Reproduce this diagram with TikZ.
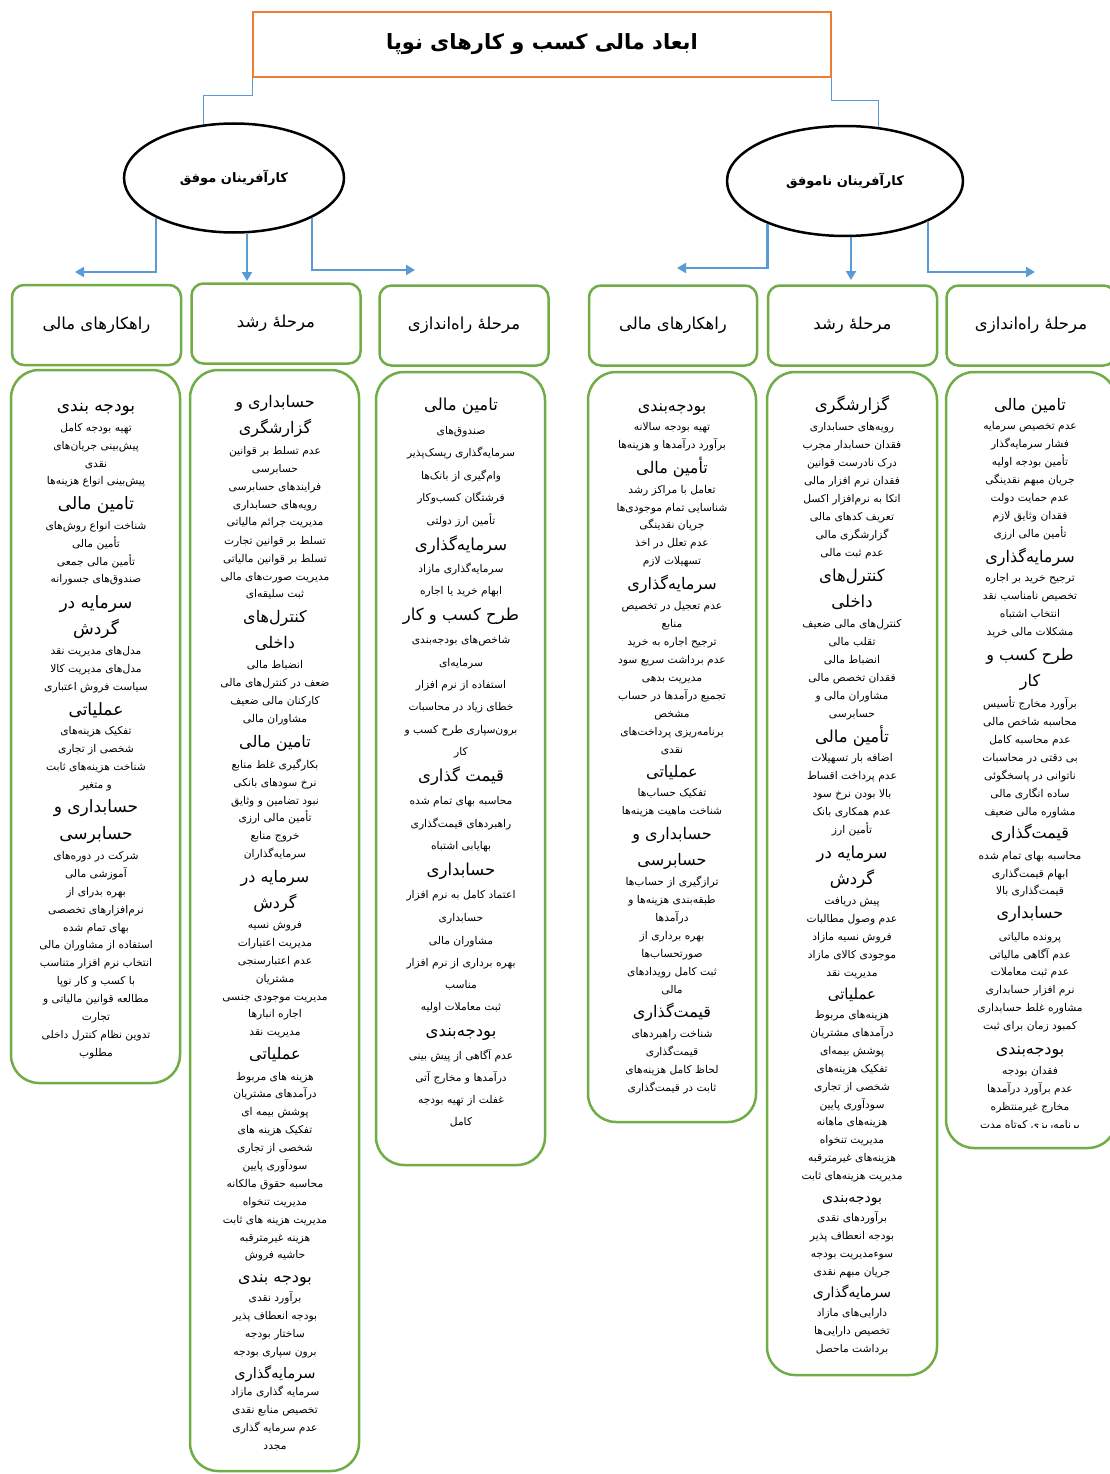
\documentclass[tikz,border=0pt]{standalone}
\usepackage{fontspec}
\usetikzlibrary{shapes.geometric,arrows.meta}
\TeXXeTstate=1
\newfontfamily\fafont[Script=Arabic]{DejaVu Sans}
\definecolor{grn}{HTML}{70AD47}
\definecolor{blu}{HTML}{5B9BD5}
\definecolor{org}{HTML}{ED7D31}
\newcounter{ln}
\newcommand\cx{0}
\newcommand\hsz{16}
\newcommand\It[2]{\stepcounter{ln}\node[itm] (l\number\value{ln}) at (\cx,#1+4) {#2};}
\newcommand\Hd[2]{\stepcounter{ln}\node[hdg] (l\number\value{ln}) at (\cx,#1+6) {#2};}
\begin{document}
\begin{tikzpicture}[x=1pt,y=-1pt,
  itm/.style={anchor=base,inner sep=0pt,font=\fafont\fontsize{10.7}{12}\selectfont},
  hdg/.style={anchor=base,inner sep=0pt,font=\fafont\fontsize{\hsz}{18}\selectfont},
  hbox/.style={draw=grn,line width=2.5pt,rounded corners=12pt,minimum width=169pt,minimum height=80pt,inner sep=0pt,font=\fafont\fontsize{16.5}{18}\selectfont},
  cbox/.style={draw=grn,line width=2.5pt,rounded corners=28pt,inner sep=0pt},
  ell/.style={ellipse,draw,line width=2.5pt,inner sep=0pt,font=\fafont\bfseries\fontsize{13}{15}\selectfont},
  arr/.style={blu,line width=2.5pt,-{Triangle[length=9pt,width=10pt]}},
  conn/.style={blu,line width=0.8pt}]
\useasboundingbox (0,0) rectangle (1109,1474);
\fill[white] (0,0) rectangle (1109,1474);

% title
\node[draw=org,line width=1.5pt,fill=white,minimum width=578pt,minimum height=65pt,inner sep=0pt,
  font=\fafont\bfseries\fontsize{21}{24}\selectfont] (title) at (542,44.5) {\beginR ابعاد مالی کسب و کارهای نوپا\endR};

% ellipses
\node[ell,minimum width=220pt,minimum height=109pt] (e1) at (234,178) {\beginR کارآفرینان موفق\endR};
\node[ell,minimum width=236pt,minimum height=110pt] (e2) at (845,181) {\beginR کارآفرینان ناموفق\endR};

\draw[conn] (title.south west) -- ++(0,18) -| (e1.120);
\draw[conn] (title.south east) -- ++(0,23) -| (e2.58);

% header boxes
\node[hbox] (h1) at (96.5,325) {\beginR راهکارهای مالی\endR};
\node[hbox] (h2) at (276,323.5) {\beginR مرحلهٔ رشد\endR};
\node[hbox] (h3) at (464,325.5) {\beginR مرحلهٔ راه‌اندازی\endR};
\node[hbox,minimum width=168pt] (h4) at (673,325.5) {\beginR راهکارهای مالی\endR};
\node[hbox] (h5) at (852.5,325.5) {\beginR مرحلهٔ رشد\endR};
\node[hbox] (h6) at (1031,325.5) {\beginR مرحلهٔ راه‌اندازی\endR};

% arrows
\coordinate (a1) at (75,272);
\coordinate (a2) at (247,281);
\coordinate (a3) at (415,270);
\coordinate (b1) at (677,268);
\coordinate (b2) at (851,280);
\coordinate (b3) at (1035,272);
\draw[arr] (e1.207) |- (a1);
\draw[arr] (e1.south -| a2) -- (a2);
\draw[arr] (e1.333) |- (a3);
\draw[arr] (e2.209) |- (b1);
\draw[arr] (e2.south -| b2) -- (b2);
\draw[arr] (e2.334) |- (b3);

% content boxes
\node[cbox,minimum width=169pt,minimum height=713pt] (c1) at (95.5,726.5) {};
\node[cbox,minimum width=169pt,minimum height=1101pt] (c2) at (274.5,920.5) {};
\node[cbox,minimum width=169pt,minimum height=793pt] (c3) at (460.5,768.5) {};
\node[cbox,minimum width=168pt,minimum height=750pt] (c4) at (672,747) {};
\node[cbox,minimum width=170pt,minimum height=1003pt] (c5) at (852,873.5) {};
\node[cbox,minimum width=170pt,minimum height=776pt] (c6) at (1031,760) {};

% column 1
\renewcommand\cx{96}
\renewcommand\hsz{17}
\Hd{405}{\beginR بودجه بندی\endR}
\It{427}{\beginR تهیه بودجه کامل\endR}
\It{445}{\beginR پیش‌بینی جریان‌های\endR}
\It{463}{\beginR نقدی\endR}
\It{480}{\beginR پیش‌بینی انواع هزینه‌ها\endR}
\Hd{503}{\beginR تامین مالی\endR}
\It{525}{\beginR شناخت انواع روش‌های\endR}
\It{543}{\beginR تأمین مالی\endR}
\It{561}{\beginR تأمین مالی جمعی\endR}
\It{578}{\beginR صندوق‌های جسورانه\endR}
\Hd{602}{\beginR سرمایه در\endR}
\Hd{628}{\beginR گردش\endR}
\It{650}{\beginR مدل‌های مدیریت نقد\endR}
\It{668}{\beginR مدل‌های مدیریت کالا\endR}
\It{686}{\beginR سیاست فروش اعتباری\endR}
\Hd{709}{\beginR عملیاتی\endR}
\It{730}{\beginR تفکیک هزینه‌های\endR}
\It{748}{\beginR شخصی از تجاری\endR}
\It{766}{\beginR شناخت هزینه‌های ثابت\endR}
\It{784}{\beginR و متغیر\endR}
\Hd{806}{\beginR حسابداری و\endR}
\Hd{833}{\beginR حسابرسی\endR}
\It{855}{\beginR شرکت در دوره‌های\endR}
\It{873}{\beginR آموزشی مالی\endR}
\It{891}{\beginR بهره بدرای از\endR}
\It{909}{\beginR نرم‌افزارهای تخصصی\endR}
\It{927}{\beginR بهای تمام شده\endR}
\It{944}{\beginR استفاده از مشاوران مالی\endR}
\It{962}{\beginR انتخاب نرم افزار متناسب\endR}
\It{980}{\beginR با کسب و کار نوپا\endR}
\It{998}{\beginR مطالعه قوانین مالیاتی و\endR}
\It{1016}{\beginR تجارت\endR}
\It{1034}{\beginR تدوین نظام کنترل داخلی\endR}
\It{1052}{\beginR مطلوب\endR}

% column 2
\renewcommand\cx{275}
\renewcommand\hsz{16}
\Hd{401}{\beginR حسابداری و\endR}
\Hd{427}{\beginR گزارشگری\endR}
\It{450}{\beginR عدم تسلط بر قوانین\endR}
\It{468}{\beginR حسابرسی\endR}
\It{486}{\beginR فرایندهای حسابرسی\endR}
\It{504}{\beginR رویه‌های حسابداری\endR}
\It{521}{\beginR مدیریت جرائم مالیاتی\endR}
\It{540}{\beginR تسلط بر قوانین تجارت\endR}
\It{558}{\beginR تسلط بر قوانین مالیاتی\endR}
\It{576}{\beginR مدیریت صورت‌های مالی\endR}
\It{593}{\beginR ثبت سلیقه‌ای\endR}
\Hd{616}{\beginR کنترل‌های\endR}
\Hd{642}{\beginR داخلی\endR}
\It{664}{\beginR انضباط مالی\endR}
\It{682}{\beginR ضعف در کنترل‌های مالی\endR}
\It{700}{\beginR کارکنان مالی ضعیف\endR}
\It{718}{\beginR مشاوران مالی\endR}
\Hd{741}{\beginR تامین مالی\endR}
\It{764}{\beginR بکارگیری غلط منابع\endR}
\It{782}{\beginR نرخ سودهای بانکی\endR}
\It{800}{\beginR نبود تضامین و وثایق\endR}
\It{817}{\beginR تأمین مالی ارزی\endR}
\It{835}{\beginR خروج منابع\endR}
\It{853}{\beginR سرمایه‌گذاران\endR}
\Hd{876}{\beginR سرمایه در\endR}
\Hd{902}{\beginR گردش\endR}
\It{924}{\beginR فروش نسیه\endR}
\It{942}{\beginR مدیریت اعتبارات\endR}
\It{960}{\beginR عدم اعتبارسنجی\endR}
\It{978}{\beginR مشتریان\endR}
\It{996}{\beginR مدیریت موجودی جنسی\endR}
\It{1013}{\beginR اجاره انبارها\endR}
\It{1031}{\beginR مدیریت نقد\endR}
\Hd{1053}{\beginR عملیاتی\endR}
\It{1076}{\beginR هزینه های مربوط\endR}
\It{1093}{\beginR درآمدهای مشتریان\endR}
\It{1111}{\beginR پوشش بیمه ای\endR}
\It{1129}{\beginR تفکیک هزینه های\endR}
\It{1147}{\beginR شخصی از تجاری\endR}
\It{1165}{\beginR سودآوری پایین\endR}
\It{1183}{\beginR محاسبه حقوق مالکانه\endR}
\It{1201}{\beginR مدیریت تنخواه\endR}
\It{1219}{\beginR مدیریت هزینه های ثابت\endR}
\It{1237}{\beginR هزینه غیرمترقبه\endR}
\It{1254}{\beginR حاشیه فروش\endR}
\Hd{1276}{\beginR بودجه بندی\endR}
\It{1297}{\beginR برآورد نقدی\endR}
\It{1315}{\beginR بودجه انعطاف پذیر\endR}
\It{1333}{\beginR ساختار بودجه\endR}
\It{1351}{\beginR برون سپاری بودجه\endR}
\renewcommand\hsz{14.5}
\Hd{1372}{\beginR سرمایه‌گذاری\endR}
\It{1391}{\beginR سرمایه گذاری مازاد\endR}
\It{1409}{\beginR تخصیص منابع نقدی\endR}
\It{1427}{\beginR عدم سرمایه گذاری\endR}
\It{1445}{\beginR مجدد\endR}

% column 3
\renewcommand\cx{461}
\renewcommand\hsz{16.5}
\Hd{404}{\beginR تامین مالی\endR}
\It{430}{\beginR صندوق‌های\endR}
\It{452}{\beginR سرمایه‌گذاری ریسک‌پذیر\endR}
\It{475}{\beginR وام‌گیری از بانک‌ها\endR}
\It{497}{\beginR فرشتگان کسب‌وکار\endR}
\It{520}{\beginR تأمین ارز دولتی\endR}
\Hd{544}{\beginR سرمایه‌گذاری\endR}
\It{568}{\beginR سرمایه‌گذاری مازاد\endR}
\It{590}{\beginR ابهام خرید یا اجاره\endR}
\Hd{614}{\beginR طرح کسب و کار\endR}
\It{639}{\beginR شاخص‌های بودجه‌بندی\endR}
\It{662}{\beginR سرمایه‌ای\endR}
\It{684}{\beginR استفاده از نرم افزار\endR}
\It{706}{\beginR خطای زیاد در محاسبات\endR}
\It{729}{\beginR برون‌سپاری طرح کسب و\endR}
\It{751}{\beginR کار\endR}
\Hd{775}{\beginR قیمت گذاری\endR}
\It{800}{\beginR محاسبه بهای تمام شده\endR}
\It{823}{\beginR راهبردهای قیمت‌گذاری\endR}
\It{845}{\beginR بهایابی اشتباه\endR}
\Hd{869}{\beginR حسابداری\endR}
\It{894}{\beginR اعتماد کامل به نرم افزار\endR}
\It{917}{\beginR حسابداری\endR}
\It{940}{\beginR مشاوران مالی\endR}
\It{962}{\beginR بهره برداری از نرم افزار\endR}
\It{984}{\beginR مناسب\endR}
\It{1006}{\beginR ثبت معاملات اولیه\endR}
\Hd{1030}{\beginR بودجه‌بندی\endR}
\It{1055}{\beginR عدم آگاهی از پیش بینی\endR}
\It{1077}{\beginR درآمدها و مخارج آتی\endR}
\It{1099}{\beginR غفلت از تهیه بودجه\endR}
\It{1121}{\beginR کامل\endR}

% column 4
\renewcommand\cx{672}
\renewcommand\hsz{16}
\Hd{405}{\beginR بودجه‌بندی\endR}
\It{426}{\beginR تهیه بودجه سالانه\endR}
\It{444}{\beginR برآورد درآمدها و هزینه‌ها\endR}
\Hd{467}{\beginR تأمین مالی\endR}
\It{489}{\beginR تعامل با مراکز رشد\endR}
\It{507}{\beginR شناسایی تمام موجودی‌ها\endR}
\It{524}{\beginR جریان نقدینگی\endR}
\It{542}{\beginR عدم تعلل در اخذ\endR}
\It{560}{\beginR تسهیلات لازم\endR}
\Hd{583}{\beginR سرمایه‌گذاری\endR}
\It{605}{\beginR عدم تعجیل در تخصیص\endR}
\It{623}{\beginR منابع\endR}
\It{641}{\beginR ترجیح اجاره به خرید\endR}
\It{659}{\beginR عدم برداشت سریع سود\endR}
\It{677}{\beginR مدیریت بدهی\endR}
\It{695}{\beginR تجمیع درآمدها در حساب\endR}
\It{713}{\beginR مشخص\endR}
\It{731}{\beginR برنامه‌ریزی پرداخت‌های\endR}
\It{749}{\beginR نقدی\endR}
\Hd{771}{\beginR عملیاتی\endR}
\It{792}{\beginR تفکیک حساب‌ها\endR}
\It{810}{\beginR شناخت ماهیت هزینه‌ها\endR}
\Hd{833}{\beginR حسابداری و\endR}
\Hd{859}{\beginR حسابرسی\endR}
\It{881}{\beginR ترازگیری از حساب‌ها\endR}
\It{899}{\beginR طبقه‌بندی هزینه‌ها و\endR}
\It{917}{\beginR درآمدها\endR}
\It{935}{\beginR بهره برداری از\endR}
\It{953}{\beginR صورتحساب‌ها\endR}
\It{971}{\beginR ثبت کامل رویدادهای\endR}
\It{989}{\beginR مالی\endR}
\Hd{1011}{\beginR قیمت‌گذاری\endR}
\It{1033}{\beginR شناخت راهبردهای\endR}
\It{1051}{\beginR قیمت‌گذاری\endR}
\It{1069}{\beginR لحاظ کامل هزینه‌های\endR}
\It{1087}{\beginR ثابت در قیمت‌گذاری\endR}

% column 5
\renewcommand\cx{852}
\renewcommand\hsz{16.5}
\Hd{404}{\beginR گزارشگری\endR}
\It{426}{\beginR رویه‌های حسابداری\endR}
\It{444}{\beginR فقدان حسابدار مجرب\endR}
\It{462}{\beginR درک نادرست قوانین\endR}
\It{480}{\beginR فقدان نرم افزار مالی\endR}
\It{498}{\beginR اتکا به نرم‌افزار اکسل\endR}
\It{516}{\beginR تعریف کدهای مالی\endR}
\It{534}{\beginR گزارشگری مالی\endR}
\It{552}{\beginR عدم ثبت مالی\endR}
\Hd{575}{\beginR کنترل‌های\endR}
\Hd{601}{\beginR داخلی\endR}
\It{623}{\beginR کنترل‌های مالی ضعیف\endR}
\It{641}{\beginR تقلب مالی\endR}
\It{659}{\beginR انضباط مالی\endR}
\It{677}{\beginR فقدان تخصص مالی\endR}
\It{695}{\beginR مشاوران مالی و\endR}
\It{713}{\beginR حسابرسی\endR}
\Hd{736}{\beginR تأمین مالی\endR}
\It{757}{\beginR اضافه بار تسهیلات\endR}
\It{775}{\beginR عدم پرداخت اقساط\endR}
\It{793}{\beginR بالا بودن نرخ سود\endR}
\It{811}{\beginR عدم همکاری بانک\endR}
\It{829}{\beginR تأمین ارز\endR}
\Hd{852}{\beginR سرمایه در\endR}
\Hd{878}{\beginR گردش\endR}
\It{900}{\beginR پیش دریافت\endR}
\It{918}{\beginR عدم وصول مطالبات\endR}
\It{936}{\beginR فروش نسیه مازاد\endR}
\It{954}{\beginR موجودی کالای مازاد\endR}
\It{972}{\beginR مدیریت نقد\endR}
\renewcommand\hsz{15}
\Hd{993}{\beginR عملیاتی\endR}
\It{1014}{\beginR هزینه‌های مربوط\endR}
\It{1032}{\beginR درآمدهای مشتریان\endR}
\It{1050}{\beginR پوشش بیمه‌ای\endR}
\It{1068}{\beginR تفکیک هزینه‌های\endR}
\It{1086}{\beginR شخصی از تجاری\endR}
\It{1104}{\beginR سودآوری پایین\endR}
\It{1121}{\beginR هزینه‌های ماهانه\endR}
\It{1139}{\beginR مدیریت تنخواه\endR}
\It{1157}{\beginR هزینه‌های غیرمترقبه\endR}
\It{1175}{\beginR مدیریت هزینه‌های ثابت\endR}
\renewcommand\hsz{14}
\Hd{1196}{\beginR بودجه‌بندی\endR}
\It{1217}{\beginR برآوردهای نقدی\endR}
\It{1235}{\beginR بودجه انعطاف پذیر\endR}
\It{1253}{\beginR سوءمدیریت بودجه\endR}
\It{1271}{\beginR جریان مبهم نقدی\endR}
\Hd{1291}{\beginR سرمایه‌گذاری\endR}
\It{1312}{\beginR دارایی‌های مازاد\endR}
\It{1330}{\beginR تخصیص دارایی‌ها\endR}
\It{1348}{\beginR برداشت ماحصل\endR}

% column 6
\renewcommand\cx{1030}
\renewcommand\hsz{16}
\begin{scope}
\clip (940,380) rectangle (1109,1127);
\Hd{404}{\beginR تامین مالی\endR}
\It{425}{\beginR عدم تخصیص سرمایه\endR}
\It{443}{\beginR فشار سرمایه‌گذار\endR}
\It{461}{\beginR تأمین بودجه اولیه\endR}
\It{479}{\beginR جریان مبهم نقدینگی\endR}
\It{497}{\beginR عدم حمایت دولت\endR}
\It{515}{\beginR فقدان وثایق لازم\endR}
\It{533}{\beginR تأمین مالی ارزی\endR}
\Hd{556}{\beginR سرمایه‌گذاری\endR}
\It{577}{\beginR ترجیح خرید بر اجاره\endR}
\It{595}{\beginR تخصیص نامناسب نقد\endR}
\It{613}{\beginR انتخاب اشتباه\endR}
\It{631}{\beginR مشکلات مالی خرید\endR}
\Hd{654}{\beginR طرح کسب و\endR}
\Hd{680}{\beginR کار\endR}
\It{703}{\beginR برآورد مخارج تأسیس\endR}
\It{721}{\beginR محاسبه شاخص مالی\endR}
\It{739}{\beginR عدم محاسبه کامل\endR}
\It{757}{\beginR بی دقتی در محاسبات\endR}
\It{775}{\beginR ناتوانی در پاسخگوئی\endR}
\It{793}{\beginR ساده انگاری مالی\endR}
\It{811}{\beginR مشاوره مالی ضعیف\endR}
\Hd{832}{\beginR قیمت‌گذاری\endR}
\It{855}{\beginR محاسبه بهای تمام شده\endR}
\It{873}{\beginR ابهام قیمت‌گذاری\endR}
\It{890}{\beginR قیمت‌گذاری بالا\endR}
\Hd{912}{\beginR حسابداری\endR}
\It{936}{\beginR پرونده مالیاتی\endR}
\It{954}{\beginR عدم آگاهی مالیاتی\endR}
\It{971}{\beginR عدم ثبت معاملات\endR}
\It{989}{\beginR نرم افزار حسابداری\endR}
\It{1007}{\beginR مشاوره غلط حسابداری\endR}
\It{1025}{\beginR کمبود زمان برای ثبت\endR}
\Hd{1048}{\beginR بودجه‌بندی\endR}
\It{1070}{\beginR فقدان بودجه\endR}
\It{1088}{\beginR عدم برآورد درآمدها\endR}
\It{1106}{\beginR مخارج غیرمنتظره\endR}
\It{1124}{\beginR برنامه‌ریزی کوتاه مدت\endR}
\end{scope}
\end{tikzpicture}
\end{document}
